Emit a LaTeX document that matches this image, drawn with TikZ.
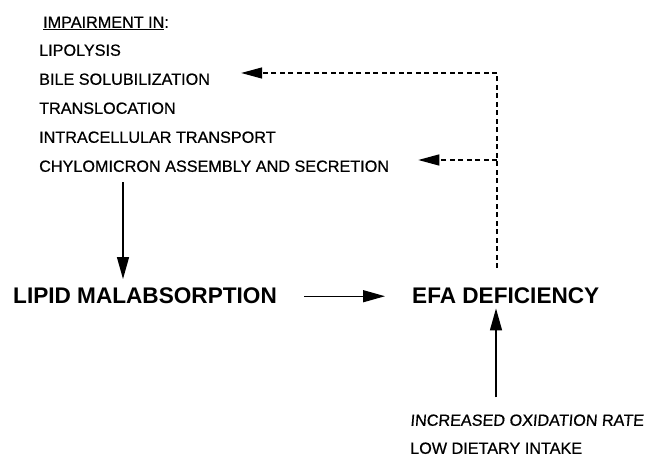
\documentclass[tikz,border=0pt]{standalone}
\usepackage{fontspec}
\setmainfont{Liberation Sans}
\newfontfamily\smallfont[FakeBold=0.6]{Liberation Sans}
\newfontfamily\slantfont[FakeSlant=0.08,FakeBold=0.6]{Liberation Sans}
\usetikzlibrary{arrows.meta}
\tikzset{
  small/.style={anchor=base west, inner sep=0pt, font=\fontsize{16.2bp}{19bp}\smallfont},
  big/.style={anchor=base west, inner sep=0pt, font=\fontsize{22.6bp}{26bp}\selectfont\bfseries},
  solidarr/.style={line width=1.4bp, -{Triangle[length=22bp,width=12bp]}},
  dasharr/.style={line width=1.3bp, dash pattern=on 5bp off 3.5bp, -{Triangle[length=21bp,width=11bp]}},
  dashline/.style={line width=1.3bp, dash pattern=on 5bp off 3.5bp}
}
\begin{document}
\begin{tikzpicture}[x=1bp,y=-1bp]
\useasboundingbox (0,0) rectangle (651,457);
% small texts (baseline = centre + 5.8)
\node[small] (imp)   at (43,27.8)  {\underline{IMPAIRMENT IN}:};
\node[small] (lip)   at (39,55.8)  {LIPOLYSIS};
\node[small] (bile)  at (39,84.8)  {BILE SOLUBILIZATION};
\node[small] (trans) at (39,113.8) {TRANSLOCATION};
\node[small] (intra) at (39,142.8) {INTRACELLULAR TRANSPORT};
\node[small] (chylo) at (39,171.8) {CHYLOMICRON ASSEMBLY AND SECRETION};
% big texts
\node[big] (lipid) at (13,304) {LIPID MALABSORPTION};
\node[big] (efa)   at (412,304) {EFA DEFICIENCY};
% bottom texts
\node[small, font=\fontsize{16.2bp}{19bp}\slantfont] (incr) at (410,425.8) {INCREASED OXIDATION RATE};
\node[small] (low)  at (410,453.8) {LOW DIETARY INTAKE};
% coordinates
\coordinate (c1) at (497,73);
\coordinate (c2) at (497,160);
\coordinate (dx) at (123,0);
\coordinate (ux) at (496,0);
% solid arrows
\draw[solidarr] ([yshift=-10bp]chylo.south -| dx) -- ([yshift=9bp]lipid.north -| dx);
\draw[solidarr, shorten <=27bp, shorten >=27bp] (lipid.east) -- (efa.west);
\draw[solidarr] ([yshift=17bp]incr.north -| ux) -- ([yshift=-4bp]efa.south -| ux);
% dashed feedback
\draw[dashline] ([yshift=20bp]efa.north -| c1) -- (c1);
\draw[dasharr, shorten >=31bp] (c1) -- (c1 -| bile.east);
\draw[dasharr, shorten >=29bp] (c2) -- (c2 -| chylo.east);
\end{tikzpicture}
\end{document}
